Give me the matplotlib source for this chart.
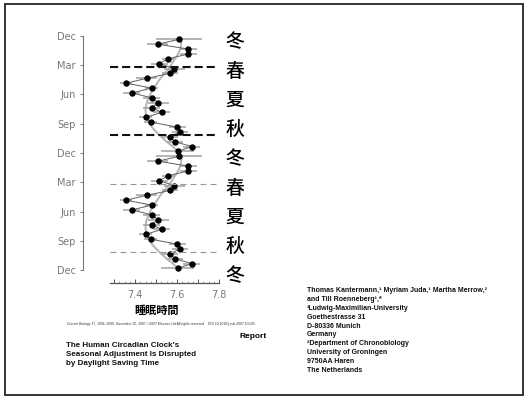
import matplotlib
matplotlib.use("Agg")
import matplotlib.pyplot as plt
from matplotlib.patches import Rectangle
import numpy as np

# half-month positions (months after the top "Dec" tick), one year
month_pos = [0.34, 0.84, 1.34, 1.84, 2.34, 2.84, 3.34, 3.84, 4.34, 4.84, 5.34, 5.84,
             6.34, 6.84, 7.34, 7.84, 8.34, 8.84, 9.34, 9.84, 10.34, 10.84, 11.34, 11.84]
# mean sleep duration (h)
sleep_h = [7.609, 7.508, 7.654, 7.654, 7.557, 7.515, 7.587, 7.566, 7.455, 7.356, 7.479, 7.384,
           7.479, 7.510, 7.479, 7.527, 7.450, 7.474, 7.601, 7.614, 7.566, 7.590, 7.670, 7.603]
sleep_err = [0.11, 0.05, 0.04, 0.04, 0.03, 0.04, 0.05, 0.04, 0.05, 0.03, 0.03, 0.04,
             0.04, 0.05, 0.04, 0.04, 0.03, 0.03, 0.04, 0.04, 0.04, 0.04, 0.04, 0.08]
# smooth seasonal fit
fit_h = [7.620, 7.620, 7.615, 7.605, 7.590, 7.575, 7.560, 7.540, 7.520, 7.505, 7.490, 7.475,
         7.465, 7.455, 7.450, 7.450, 7.455, 7.465, 7.480, 7.500, 7.525, 7.550, 7.580, 7.605]

month_ticks = [0, 3, 6, 9, 12, 15, 18, 21, 24]
month_labels = ["Dec", "Mar", "Jun", "Sep", "Dec", "Mar", "Jun", "Sep", "Dec"]
season_pos = [0.6, 3.6, 6.6, 9.6, 12.6, 15.6, 18.6, 21.6, 24.6]
season_labels = ["冬", "春", "夏", "秋", "冬", "春", "夏", "秋", "冬"]
dst_pos = [3.18, 10.15]

authors = ["Thomas Kantermann,¹ Myriam Juda,¹ Martha Merrow,²",
           "and Till Roenneberg¹,*",
           "¹Ludwig-Maximilian-University",
           "Goethestrasse 31",
           "D-80336 Munich",
           "Germany",
           "²Department of Chronobiology",
           "University of Groningen",
           "9750AA Haren",
           "The Netherlands"]
title_lines = ["The Human Circadian Clock's",
               "Seasonal Adjustment Is Disrupted",
               "by Daylight Saving Time"]
citation = ("Current Biology 17, 1996\u20132000, November 20, 2007 \u00a92007 Elsevier Ltd All rights reserved"
            "    DOI 10.1016/j.cub.2007.10.025")

W, H = 526, 397
fig = plt.figure(figsize=(W / 100, H / 100), dpi=100)
fig.patch.set_facecolor("white")


def fx(px):
    return px / W


def fy(py):
    return 1 - py / H


ax = fig.add_axes([fx(82.5), fy(283), fx(219) - fx(82.5), fy(30) - fy(283)])
ax.set_xlim(7.1488, 7.80)
ax.set_ylim(25.333, -0.615)

# double-plotted year
pos2 = np.array(month_pos + [p + 12 for p in month_pos])
h2 = np.array(sleep_h * 2)
e2 = np.array(sleep_err * 2)
f2 = np.array(fit_h * 2)

ax.plot(f2, pos2, color="#b4b4b4", lw=1.4, zorder=1)
ax.errorbar(h2, pos2, xerr=e2, fmt="none", ecolor="#a0a0a0", elinewidth=1.1, capsize=0, zorder=2)
ax.plot(h2, pos2, color="#606060", lw=0.7, zorder=3)
ax.plot(h2, pos2, "o", color="black", ms=3.6, zorder=4)

for i, p in enumerate(dst_pos + [d + 12 for d in dst_pos]):
    if i < 2:
        ax.plot([7.28, 7.79], [p, p], color="#111111", lw=1.5, dashes=(3.9, 1.9), zorder=5)
    else:
        ax.plot([7.28, 7.79], [p, p], color="#999999", lw=0.8, dashes=(5.4, 3.6), zorder=5)

for p, s in zip(season_pos, season_labels):
    ax.text(7.876, p, s, fontsize=13.5, fontweight="medium",
            family=["Noto Sans CJK JP", "DejaVu Sans"],
            ha="center", va="center", clip_on=False)

for side in ["top", "right"]:
    ax.spines[side].set_visible(False)
ax.spines["left"].set_bounds(0, 24)
ax.spines["bottom"].set_bounds(7.28, 7.8)
ax.spines["left"].set_color("#777777")
ax.spines["bottom"].set_color("#555555")
ax.spines["left"].set_linewidth(0.8)
ax.spines["bottom"].set_linewidth(0.9)

ax.set_yticks(month_ticks)
ax.set_yticklabels(month_labels)
ax.set_xticks([7.3, 7.4, 7.5, 7.6, 7.7, 7.8])
ax.set_xticklabels(["", "7.4", "", "7.6", "", "7.8"])
ax.set_xticks(np.arange(7.3, 7.8, 0.025), minor=True)
ax.tick_params(axis="y", direction="out", length=2, width=0.7, color="#777777",
               labelsize=7, labelcolor="#777777", pad=3)
ax.tick_params(axis="x", which="major", direction="in", length=3, width=0.7, color="#555555",
               labelsize=7, labelcolor="#777777", pad=5)
ax.tick_params(axis="x", which="minor", direction="in", length=1.5, width=0.5, color="#777777")

fig.text(fx(157), fy(310), "睡眠時間", fontsize=8, fontweight="bold",
         family=["Noto Sans CJK JP", "DejaVu Sans"], ha="center", va="center")
fig.text(fx(67), fy(324), citation, fontsize=2.4, family="Liberation Sans",
         ha="left", va="center", color="#333333")
fig.text(fx(267), fy(336), "Report", fontsize=6, fontweight="bold",
         family="Liberation Sans", ha="right", va="center")

for k, line in enumerate(title_lines):
    fig.text(fx(66.5), fy(345.6 + 8.9 * k), line, fontsize=5.8, fontweight="bold",
             family="Liberation Sans", ha="left", va="center", color="#111111")

for k, line in enumerate(authors):
    fig.text(fx(307), fy(290.6 + 8.87 * k), line, fontsize=5.0, fontweight="bold",
             family="Liberation Sans", ha="left", va="center", color="#111111")

fig.patches.append(Rectangle((fx(4.5), fy(395)), fx(523) - fx(4.5), fy(3.5) - fy(395),
                             transform=fig.transFigure, fill=False, edgecolor="#333333", lw=1.4))

fig.savefig("out.png", dpi=100)
